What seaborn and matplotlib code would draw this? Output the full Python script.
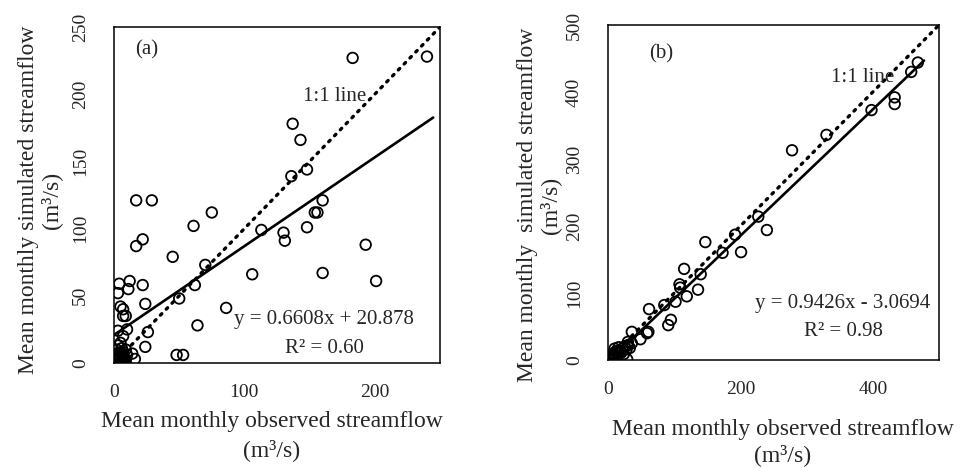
import numpy as np
import matplotlib
matplotlib.use("Agg")
import matplotlib.pyplot as plt
import seaborn as sns

# panel (a) observed / simulated (m3/s)
obs_a = [183, 240, 137, 143, 148, 136, 17, 29, 160, 75, 154, 156, 61, 113, 130, 131, 148,
         22, 17, 193, 45, 70, 106, 160, 201, 62, 4, 12, 11, 22, 3, 24, 50, 86, 5, 7, 7, 9,
         64, 26, 10, 3, 24, 48, 53, 14, 16, 7, 5,
         1, 2, 3, 4, 5, 6, 2, 3, 4, 6, 7, 8, 9, 3, 5, 1, 2, 6, 8, 10, 4, 7, 2, 9]
sim_a = [227, 228, 178, 166, 144, 139, 121, 121, 121, 112, 112, 112, 102, 99, 97, 91, 101,
         92, 87, 88, 79, 73, 66, 67, 61, 58, 59, 61, 55, 58, 52, 44, 48, 41, 42, 40, 35, 35,
         28, 23, 25, 24, 12, 6, 6, 7, 3, 20, 15,
         1, 3, 2, 5, 8, 3, 10, 13, 0.5, 6, 2, 4, 10, 6, 1, 4, 7, 11, 1, 6, 3, 8, 5, 2]

# panel (b)
obs_b = [468, 458, 433, 433, 398, 330, 278, 227, 240, 192, 201, 173, 147, 140, 115, 108, 109,
         136, 119, 102, 85, 62, 95, 91, 61, 59, 49, 36, 30, 36, 29, 10,
         1, 2, 3, 4, 5, 6, 8, 10, 12, 14, 15, 18, 20, 22, 25, 28, 16, 7, 3, 24, 30, 33, 12]
sim_b = [444, 430, 392, 382, 373, 336, 313, 214, 194, 187, 161, 160, 176, 128, 136, 113, 108,
         105, 95, 87, 82, 76, 60, 52, 42, 40, 31, 42, 27, 25, 1, 17,
         0.5, 1, 2, 1, 4, 3, 5, 8, 6, 10, 12, 14, 11, 17, 20, 16, 19, 9, 6, 9, 22, 18, 13]

fit_a = (0.6608, 20.878)
fit_b = (0.9426, -3.0694)
eq_a = "y = 0.6608x + 20.878"
eq_b = "y = 0.9426x - 3.0694"
r2_a = "R\u00b2 = 0.60"
r2_b = "R\u00b2 = 0.98"
lim_a = 250
lim_b = 500

sns.set_style("white")
plt.rcParams['font.family'] = ['Liberation Serif', 'DejaVu Serif']

fig = plt.figure(figsize=(9.6, 4.68), dpi=100)
ax_a = fig.add_axes([114/960, 1 - 363/468, 326/960, 336/468])
ax_b = fig.add_axes([608/960, 1 - 360/468, 331/960, 335/468])


def draw_panel(ax, obs, sim, fit, lim, ticks):
    obs = np.array(obs, dtype=float)
    sim = np.array(sim, dtype=float)
    sns.scatterplot(x=obs, y=sim, ax=ax, marker="o", s=58, facecolor="none",
                    edgecolor="black", linewidth=1.3, zorder=3)
    # 1:1 line
    one = np.array([0, lim])
    sns.lineplot(x=one, y=one, ax=ax, color="black", linewidth=2.4,
                 linestyle=(0, (0.6, 1.9)), dash_capstyle="round", zorder=2)
    # trend line, a little past the last point like the spreadsheet one
    xf = np.array([obs.min(), obs.max() * 1.02])
    sns.lineplot(x=xf, y=fit[0] * xf + fit[1], ax=ax, color="black", linewidth=1.9, zorder=2)
    ax.set_xlim(0, lim)
    ax.set_ylim(0, lim)
    ax.set_xticks(ticks)
    ax.set_yticks(np.arange(0, lim + 1, lim // 5))
    for s in ax.spines.values():
        s.set_color("black")
        s.set_linewidth(1.1)
        s.set_visible(True)
    ax.tick_params(direction="inout", length=10, width=1.1, color="black", labelsize=14)
    ax.tick_params(axis="x", pad=10)
    ax.tick_params(axis="y", pad=13)
    for lab in ax.get_yticklabels():
        lab.set_rotation(90)
        lab.set_va("center")
    ax.set_xlabel("")
    ax.set_ylabel("")


draw_panel(ax_a, obs_a, sim_a, fit_a, lim_a, [0, 100, 200])
draw_panel(ax_b, obs_b, sim_b, fit_b, lim_b, [0, 200, 400])

tkw = dict(ha="center", va="center", fontsize=15)
ax_a.text(25, 233, "(a)", **tkw)
ax_a.text(169, 198, "1:1 line", **tkw)
ax_a.text(161, 32, eq_a, **tkw)
ax_a.text(161, 11, r2_a, **tkw)

ax_b.text(80, 457, "(b)", **tkw)
ax_b.text(384, 421, "1:1 line", **tkw)
ax_b.text(355, 85, eq_b, **tkw)
ax_b.text(355, 42, r2_b, **tkw)

lkw = dict(ha="center", fontsize=17, multialignment="center")
fig.text(40/960, 1 - 200/468, "Mean monthly simulated streamflow\n(m\u00b3/s)",
         rotation=90, va="center", linespacing=1.1, **lkw)
fig.text(539/960, 1 - 205/468, "Mean monthly  simulated streamflow\n(m\u00b3/s)",
         rotation=90, va="center", linespacing=1.1, **lkw)
fig.text(272/960, 1 - 411/468, "Mean monthly observed streamflow\n(m\u00b3/s)",
         va="top", linespacing=1.4, **lkw)
fig.text(783/960, 1 - 419/468, "Mean monthly observed streamflow\n(m\u00b3/s)",
         va="top", linespacing=1.25, **lkw)

fig.savefig("out.png", dpi=100)
